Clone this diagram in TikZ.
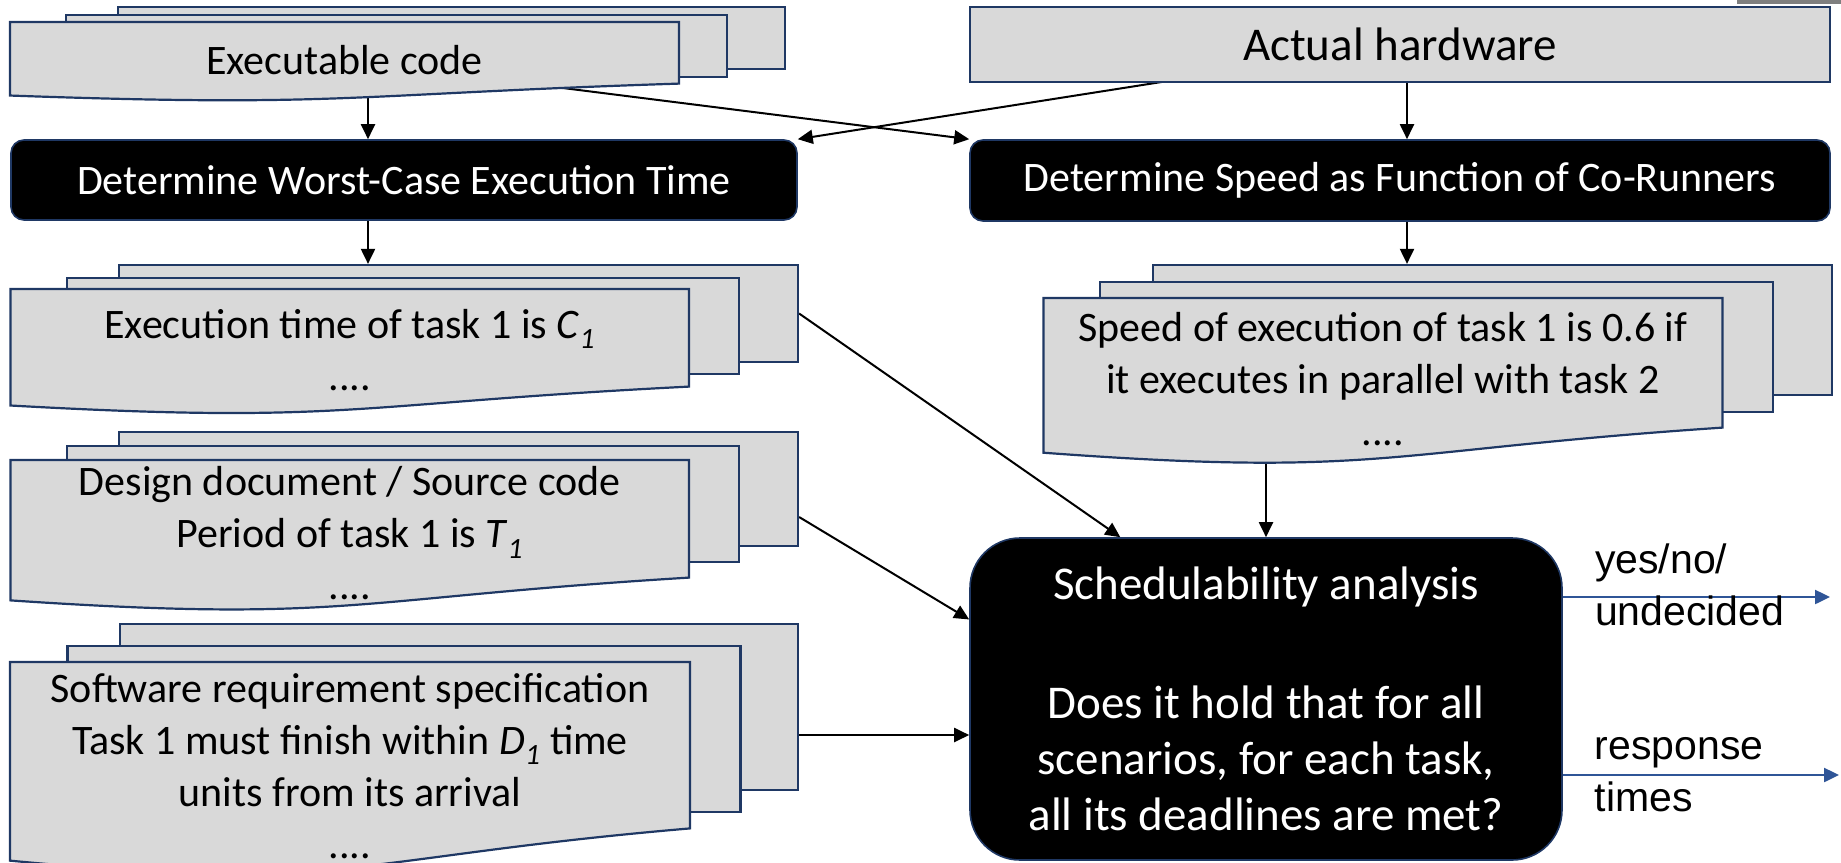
\documentclass[tikz,border=0pt]{standalone}
\usepackage{fontspec}
\setmainfont{Carlito}
\newfontfamily\arialfont{Liberation Sans}
\usetikzlibrary{arrows.meta,calc}
\definecolor{pagefill}{RGB}{217,217,217}
\definecolor{pageline}{RGB}{31,56,100}
\definecolor{outblue}{RGB}{47,85,151}
\definecolor{stripgray}{RGB}{127,127,127}
\pgfdeclarelayer{wires}
\pgfdeclarelayer{paper}
\pgfsetlayers{wires,paper,main}
% wavy front sheet of a document stack
\newcommand{\pagefront}[1]{%
  \draw[page] (#1.north west) -- (#1.north east)
    -- ($(#1.north east)!.8!(#1.south east)$)
    .. controls ($(#1.north)!.94!(#1.south)$) and ($(#1.north)!1.11!(#1.south)$)
    .. ($(#1.north west)!.955!(#1.south west)$) -- cycle;}

\begin{document}
\begin{tikzpicture}[x=1pt, y=-1pt, line width=2pt, >={Triangle[length=15pt,width=14pt]},
  page/.style={draw=pageline, fill=pagefill, line width=2.2pt},
  doc/.style={inner sep=0pt, align=center, font=\fontsize{42}{52}\selectfont},
  hwbox/.style={page, font=\fontsize{47}{56}\selectfont},
  stage/.style={draw=pageline, fill=black, text=white, line width=1.6pt, rounded corners=13pt, font=\fontsize{42}{50}\selectfont},
  verdict/.style={inner sep=0pt, align=left, font=\arialfont\fontsize{41}{52}\selectfont},
  result/.style={->, draw=outblue, line width=2.4pt}]
\useasboundingbox (0,0) rectangle (1841,862);
\fill[stripgray] (1737,0) rectangle (1841,4);

\node[doc, minimum width=667pt, minimum height=75pt] (exec) at (344.5,60.5) {Executable code};
\node[hwbox, minimum width=860pt, minimum height=75pt] (hw) at (1400,44.5) {Actual hardware};
\node[stage, minimum width=786pt, minimum height=80pt] (wcet) at (404,180) {Determine Worst-Case Execution Time};
\node[stage, minimum width=860pt, minimum height=81pt] (speed) at (1400,180.5) {Determine Speed as Function of Co-Runners};

\node[doc, minimum width=676.5pt, minimum height=120pt] (cdoc) at (349.75,350) {Execution time of task 1 is \textit{C}\textsubscript{\textit{1}}\\....};
\node[doc, minimum width=677pt, minimum height=160pt] (sdoc) at (1383,379) {Speed of execution of task 1 is 0.6 if\\it executes in parallel with task 2\\....};
\node[doc, minimum width=676.5pt, minimum height=145pt] (tdoc) at (349.75,533.5) {Design document / Source code\\Period of task 1 is \textit{T}\textsubscript{\textit{1}}\\....};
\node[doc, minimum width=678pt, minimum height=206pt, text depth=0pt] (ddoc) at (350,766) {Software requirement specification\\Task 1 must finish within \textit{D}\textsubscript{\textit{1}} time\\units from its arrival\\....};

\node[stage, rounded corners=50pt, minimum width=592pt, minimum height=322pt, align=center, font=\fontsize{47}{56}\selectfont] (sched) at (1266,699) {Schedulability analysis\\[63pt]Does it hold that for all\\scenarios, for each task,\\all its deadlines are met?};
\coordinate (yesout) at (1830,597); \coordinate (rtout) at (1839,775);

% sheets behind the texts
\begin{pgfonlayer}{paper}
\node[page, minimum width=667pt, minimum height=62pt] (execback) at (451.5,38) {};
\node[page, minimum width=661pt, minimum height=62pt] (execmid) at (396.5,46) {};
\pagefront{exec}
\node[page, minimum width=679pt, minimum height=97pt] (cback) at (458.5,313.5) {};
\node[page, minimum width=672pt, minimum height=96pt] (cmid) at (403,326) {};
\pagefront{cdoc}
\node[page, minimum width=679pt, minimum height=130pt] (sback) at (1492.5,330) {};
\node[page, minimum width=673pt, minimum height=130pt] (smid) at (1436.5,347) {};
\pagefront{sdoc}
\node[page, minimum width=679pt, minimum height=114pt] (tback) at (458.5,489) {};
\node[page, minimum width=672pt, minimum height=116pt] (tmid) at (403,504) {};
\pagefront{tdoc}
\node[page, minimum width=678pt, minimum height=166pt] (dback) at (459,707) {};
\node[page, minimum width=673pt, minimum height=166pt] (dmid) at (404,729) {};
\pagefront{ddoc}
\end{pgfonlayer}

% connectors under the sheets
\begin{pgfonlayer}{wires}
\begin{scope}[line width=2pt]
\draw[->] ([xshift=-36pt]wcet.north |- exec.center) to ([xshift=-36pt]wcet.north);
\draw[->] (exec.center) to (speed.north west);
\draw[->] (hw.center) to (wcet.north east);
\draw[->] ([xshift=7pt]hw.center) to ([xshift=7pt]speed.north);
\draw[->] ([xshift=-36pt]wcet.south) to ([xshift=-36pt]wcet.south |- cback.north);
\draw[->] ([xshift=7pt]speed.south) to ([xshift=7pt]speed.south |- sback.north);
\draw[->] (cback.east) to (sched.132);
\draw[->] ([yshift=-28pt]tback.east) to (sched.165);
\draw[->] ([yshift=-28pt]dback.east) to ([yshift=-28pt]dback.east -| sched.west);
\draw[->] (sched.north |- sdoc.center) to (sched.north);
\draw[result] ([yshift=102pt]sched.east) to node[verdict, pos=.116, anchor=west, yshift=12pt] {yes/no/\\undecided} (yesout);
\draw[result] ([yshift=-76pt]sched.east) to node[verdict, pos=.112, anchor=west] {response\\times} (rtout);
\end{scope}
\end{pgfonlayer}
\end{tikzpicture}
\end{document}
